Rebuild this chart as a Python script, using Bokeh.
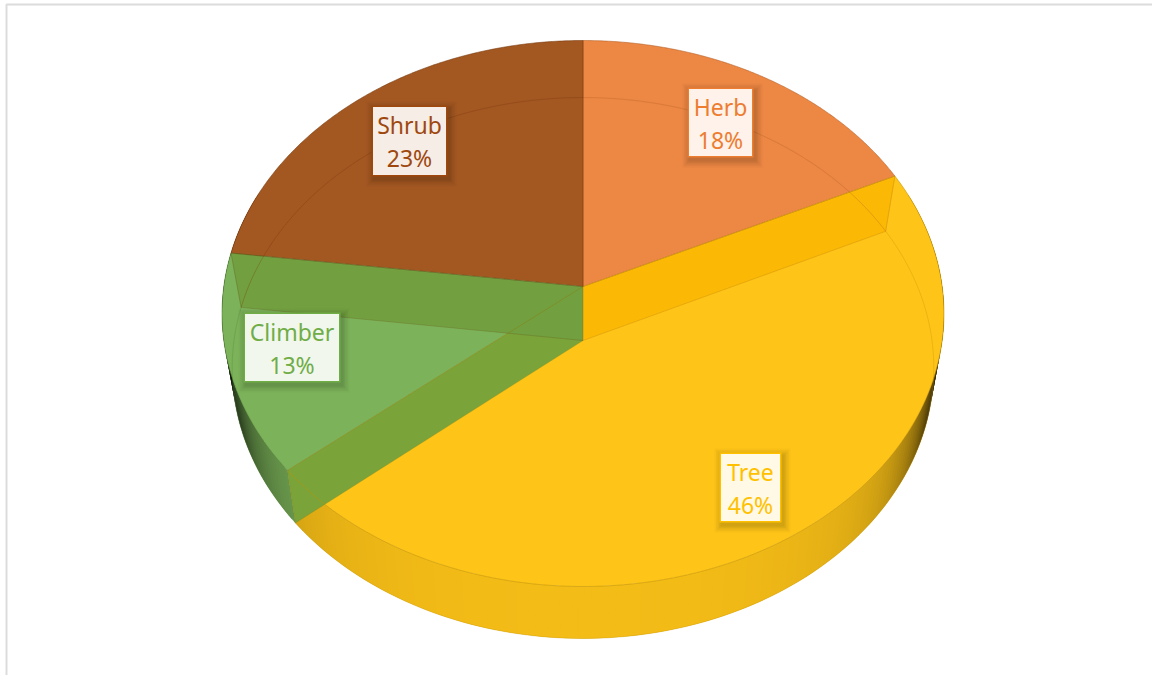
import numpy as np
from bokeh.core.properties import value
from bokeh.embed import file_html
from bokeh.models import Range1d
from bokeh.plotting import figure
from bokeh.resources import INLINE

categories = ["Herb", "Tree", "Climber", "Shrub"]
shares = [18, 46, 13, 23]
face_colors = ["#ec8744", "#fec418", "#7cb35a", "#a35822"]
text_colors = ["#ed7d31", "#ffc000", "#70ad47", "#9e480e"]
cut_colors = ["#fbb905", "#7aa43a", "#72a040", "#a35822"]
label_boxes = [(720, 122, 66, 70), (750, 487, 62, 70), (291.5, 347, 97, 70), (409, 140.5, 76, 71)]

CX = 582.5
# Perspective parameters of the upper and lower disc: (scale, c, a, b)
UPPER = (359.2, 0.0989, -242.04, 286.0)
LOWER = (349.0, 0.1017, -233.1, 340.0)


def project(theta, disc, r=1.0):
    s, c, a, b = disc
    u, v = r * np.sin(theta), r * np.cos(theta)
    d = 1 + c * v
    return CX + s * u / d, (a * v + b) / d


def shaded(color, f):
    rgb = [int(color[i:i + 2], 16) for i in (1, 3, 5)]
    return "#%02x%02x%02x" % tuple(int(min(255, max(0, x * f))) for x in rgb)


bounds = 2 * np.pi * np.concatenate([[0], np.cumsum(shares)]) / sum(shares)

p = figure(width=1152, height=675, x_range=Range1d(0, 1152), y_range=Range1d(675, 0),
           toolbar_location=None, output_backend="svg", min_border=0)
p.axis.visible = False
p.grid.visible = False
p.outline_line_color = None
p.background_fill_color = "white"
p.border_fill_color = "white"

# Panel frame along the top and left edges
p.line([6, 6, 1152], [675, 4, 4], line_color="#dcdcdc", line_width=2)

# Outer wall, drawn as overlapping strips so the shading can vary smoothly around the rim
for i in range(len(shares)):
    th = np.linspace(bounds[i], bounds[i + 1], max(8, int(shares[i] * 4)))
    for j in range(len(th) - 1):
        t0, t1 = th[j], th[min(j + 2, len(th) - 1)]
        if np.cos((t0 + t1) / 2) > 0.35:
            continue
        x0, y0 = project(t0, UPPER)
        x1, y1 = project(t1, UPPER)
        x2, y2 = project(t1, LOWER)
        x3, y3 = project(t0, LOWER)
        mid_x, _ = project(th[j], LOWER)
        k = abs(mid_x - CX) / 351
        f = 0.96 - 0.16 * k ** 3 - 0.7 * k ** 14
        p.patch([x0, x1, x2, x3], [y0, y1, y2, y3], fill_color=shaded(face_colors[i], f),
                line_color=None)

# Upper face of each slice
for i in range(len(shares)):
    th = np.linspace(bounds[i], bounds[i + 1], 160)
    x, y = project(th, UPPER)
    p.patch([CX, *x], [286.0, *y], fill_color=face_colors[i], line_color=None)

# Cut faces running from the hub to the rim
for i in [0, 1, 2]:
    t = bounds[i + 1]
    x0, y0 = project(np.array(t), UPPER)
    x1, y1 = project(np.array(t), LOWER)
    p.patch([CX, x0, x1, CX], [286.0, y0, y1, 340.0], fill_color=cut_colors[i],
            line_color=None)

# Thin edges: lower disc seen through the upper one, then the rims
for i in range(len(shares)):
    th = np.linspace(bounds[i], bounds[i + 1], 160)
    edge = shaded(text_colors[i], 0.75)
    x, y = project(th, LOWER)
    p.line(x, y, line_color=edge, line_alpha=0.3, line_width=1)
    x, y = project(th, UPPER)
    p.line(x, y, line_color=edge, line_alpha=0.55, line_width=1)
    for t in (bounds[i], bounds[i + 1]):
        xa, ya = project(np.array(t), UPPER)
        xb, yb = project(np.array(t), LOWER)
        p.line([CX, xa], [286.0, ya], line_color=edge, line_alpha=0.4, line_width=1)
        p.line([CX, xb], [340.0, yb], line_color=edge, line_alpha=0.15, line_width=1)
        p.line([xa, xb], [ya, yb], line_color=edge, line_alpha=0.2, line_width=1)

# Data labels: soft shadow, tinted border, translucent white fill, two lines of text
for name, share, col, (bx, by, bw, bh) in zip(categories, shares, text_colors, label_boxes):
    for grow, alpha in ((14, 0.025), (11, 0.03), (8, 0.035), (5, 0.04), (2, 0.05)):
        p.rect([bx + 2], [by + 3], width=[bw + grow], height=[bh + grow],
               fill_color="black", fill_alpha=alpha, line_color=None)
    p.rect([bx], [by], width=[bw], height=[bh], fill_color=col, fill_alpha=1, line_color=None)
    p.rect([bx], [by], width=[bw - 3], height=[bh - 3], fill_color="white", fill_alpha=0.9,
           line_color=None)
    p.text([bx], [by - 16], text=[name], text_color=col, text_font=value("Noto Sans"),
           text_font_size="23px", text_align="center", text_baseline="middle")
    p.text([bx], [by + 17], text=[f"{share}%"], text_color=col, text_font=value("Noto Sans"),
           text_font_size="23px", text_align="center", text_baseline="middle")

open("out.html", "w").write(file_html(p, INLINE))
